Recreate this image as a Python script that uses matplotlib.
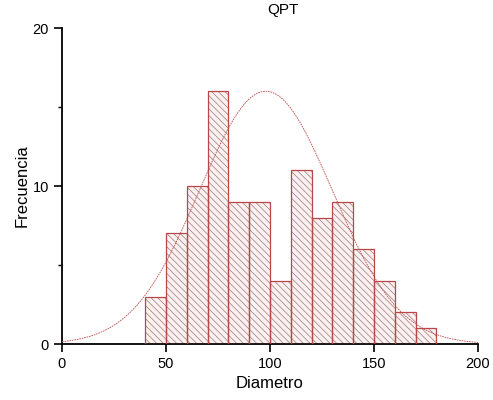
import numpy as np
import matplotlib
matplotlib.use("Agg")
import matplotlib.pyplot as plt
from matplotlib.ticker import MultipleLocator

plt.rcParams['font.family'] = ['Liberation Sans', 'DejaVu Sans']
plt.rcParams['hatch.linewidth'] = 0.5

bin_edges = [40, 50, 60, 70, 80, 90, 100, 110, 120, 130, 140, 150, 160, 170, 180]
counts = [3, 7, 10, 16, 9, 9, 4, 11, 8, 9, 6, 4, 2, 1]
fit_mean = 98.0
fit_sd = 32.0
fit_peak = 16.0
x_ticks = [0, 50, 100, 150, 200]
y_ticks = [0, 10, 20]

W, H = 493, 400
fig = plt.figure(figsize=(W / 100, H / 100), dpi=100)
ax = fig.add_axes([62 / W, 1 - 344 / H, 416 / W, 316 / H])

lefts = np.array(bin_edges[:-1])
widths = np.diff(bin_edges)
ax.bar(lefts, counts, width=widths, align='edge', facecolor='#fcf1f1',
       edgecolor='#9a7a7a', hatch='\\\\\\\\\\', linewidth=0, zorder=2)
ax.bar(lefts, counts, width=widths, align='edge', fill=False,
       edgecolor='#b84848', linewidth=0.9, zorder=3)

xs = np.linspace(0, 200, 400)
ys = fit_peak * np.exp(-0.5 * ((xs - fit_mean) / fit_sd) ** 2)
ax.plot(xs, ys, color='#c04a4a', linewidth=0.6, linestyle=(0, (2, 1)), zorder=4)

ax.set_xlim(0, 200)
ax.set_ylim(0, 20)
ax.set_xticks(x_ticks)
ax.set_yticks(y_ticks)
ax.yaxis.set_minor_locator(MultipleLocator(5))
ax.spines['top'].set_visible(False)
ax.spines['right'].set_visible(False)
ax.spines['left'].set_linewidth(1.3)
ax.spines['bottom'].set_linewidth(1.3)
ax.tick_params(axis='both', which='major', direction='out', length=6, width=1.2, labelsize=10.5)
ax.tick_params(axis='y', which='minor', direction='out', length=3, width=1.0)

fig.text(270 / W, 1 - 383 / H, 'Diametro', fontsize=12, ha='center', va='center')
fig.text(22 / W, 1 - 186 / H, 'Frecuencia', fontsize=12, ha='center', va='center', rotation=90)
fig.text(283 / W, 1 - 10 / H, 'QPT', fontsize=11, ha='center', va='center')

fig.savefig('out.png', dpi=100)
